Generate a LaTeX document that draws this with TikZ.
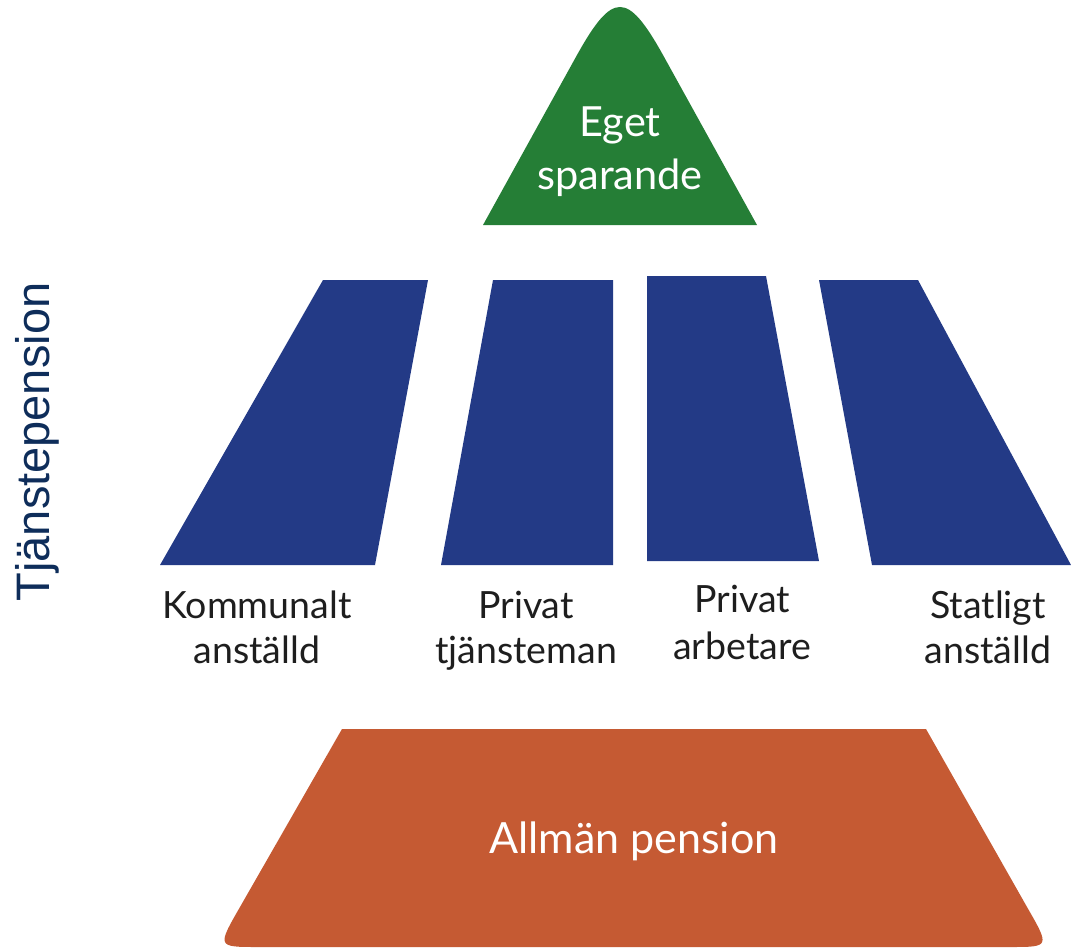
\documentclass[tikz,border=0pt]{standalone}
\usepackage{fontspec}
\setmainfont{Lato}
\newfontfamily\arialfont{Liberation Sans}
\definecolor{egreen}{HTML}{257E36}
\definecolor{tnavy}{HTML}{233A86}
\definecolor{aorange}{HTML}{C55A33}
\definecolor{labeltext}{HTML}{1E1E1E}
\definecolor{sidenavy}{HTML}{0E2D5A}
\tikzset{
  whitetxt/.style={text=white, align=center, inner sep=0pt},
  lbl/.style={text=labeltext, align=center, inner sep=0pt, font=\fontsize{37.5}{45}\selectfont},
}
\begin{document}
\begin{tikzpicture}[x=1pt,y=-1pt]
\useasboundingbox (0,0) rectangle (1071,950);
% top triangle
\fill[egreen] (483,225) -- (577,55) .. controls (612.7,-9) and (627.3,-9) .. (663,55) -- (757,225) -- cycle;
\node[whitetxt, font=\fontsize{41.5}{55}\selectfont, anchor=base] (eget) at (620,136) {Eget};
\node[whitetxt, font=\fontsize{41.5}{55}\selectfont, anchor=base] (spar) at (620,189) {sparande};
% pillars
\fill[tnavy] (323,280) -- (428,280) -- (375,565) -- (160,565) -- cycle;
\fill[tnavy] (493,280) -- (613,280) -- (613,565) -- (441,565) -- cycle;
\fill[tnavy] (647,276) -- (766,276) -- (819,561) -- (647,561) -- cycle;
\fill[tnavy] (819,280) -- (918,280) -- (1071,565) -- (872,565) -- cycle;
% labels
\node[lbl, anchor=base] (k1) at (257,618) {Kommunalt};
\node[lbl, anchor=base] (k2) at (257,663) {anställd};
\node[lbl, anchor=base] (p1) at (526,618) {Privat};
\node[lbl, anchor=base] (p2) at (526,663) {tjänsteman};
\node[lbl, anchor=base] (a1) at (742,612) {Privat};
\node[lbl, anchor=base] (a2) at (742,659) {arbetare};
\node[lbl, anchor=base] (s1) at (988,618) {Statligt};
\node[lbl, anchor=base] (s2) at (988,663) {anställd};
% side label
\node[text=sidenavy, inner sep=0pt, rotate=90, font=\arialfont\fontsize{47}{50}\selectfont] (tj) at (37,442) {Tjänstepension};
% bottom trapezoid
\fill[aorange] (342,729) -- (926,729) -- (1027,907) .. controls (1050,947) .. (1010,947)
  -- (258,947) .. controls (217,947) .. (240,907) -- cycle;
\node[whitetxt, font=\fontsize{43}{45}\selectfont, anchor=base] (allm) at (634,853) {Allmän pension};
\end{tikzpicture}
\end{document}
